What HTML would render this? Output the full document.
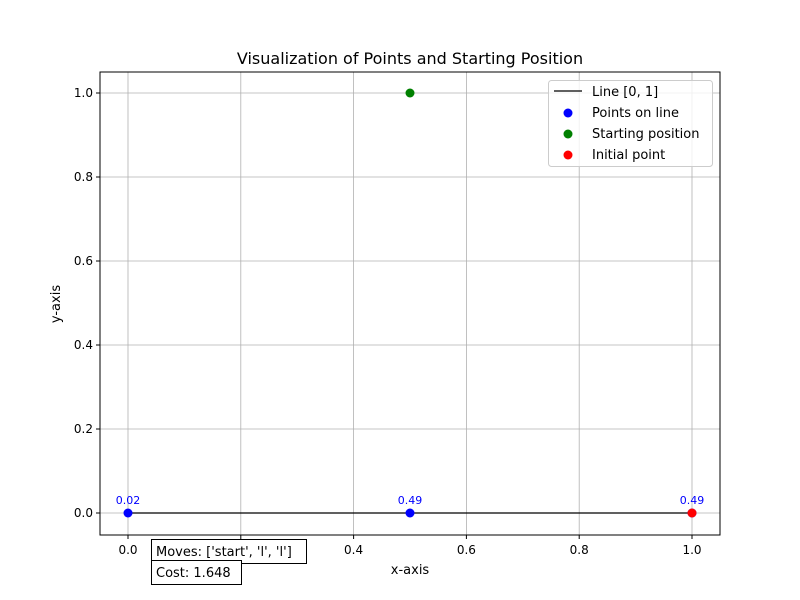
<!DOCTYPE html>
<html><head><meta charset="utf-8"><style>
html,body{margin:0;padding:0;background:#fff;}
svg{display:block;font-family:"DejaVu Sans","Liberation Sans",sans-serif;}
</style></head><body>
<svg id="chart" width="800" height="600" viewBox="0 0 800 600"></svg>
<script>
const xTicks=[0.0,0.2,0.4,0.6,0.8,1.0];
const yTicks=[0.0,0.2,0.4,0.6,0.8,1.0];
const lineX=[0,1];
const lineY=[0,0];
const pointsX=[0,0.5,1];
const pointsY=[0,0,0];
const pointLabels=["0.02","0.49","0.49"];
const startX=[0.5];
const startY=[1];
const initX=[1];
const initY=[0];
const L=100,R=720,T=72,B=535;
const x=v=>128+v*(692-128);
const y=v=>513-v*(513-93);
const svg=document.getElementById('chart');
const NS='http://www.w3.org/2000/svg';
function mk(tag,attrs,parent){const e=document.createElementNS(NS,tag);for(const k in attrs)e.setAttribute(k,attrs[k]);(parent||svg).appendChild(e);return e;}
function txt(s,attrs){const e=mk('text',attrs);e.textContent=s;return e;}
// grid
xTicks.forEach(v=>{const g=mk('line',{x1:x(v),x2:x(v),y1:T,y2:B,stroke:'#b0b0b0','stroke-width':0.8});

});
yTicks.forEach(v=>{const g=mk('line',{x1:L,x2:R,y1:y(v),y2:y(v),stroke:'#b0b0b0','stroke-width':0.8});

});
// line
const ln=mk('line',{x1:x(lineX[0]),x2:x(lineX[1]),y1:y(lineY[0]),y2:y(lineY[1]),stroke:'#000','stroke-width':1.2});


// points
pointsX.forEach((v,i)=>{const c=mk('circle',{cx:x(v),cy:y(pointsY[i]),r:4.5,fill:'#0000ff'});


const t=txt(pointLabels[i],{x:x(v),y:y(pointsY[i])-9,'text-anchor':'middle','font-size':11,fill:'#0000ff'});

});
startX.forEach((v,i)=>{const c=mk('circle',{cx:x(v),cy:y(startY[i]),r:4.5,fill:'#008000'});

});
initX.forEach((v,i)=>{const c=mk('circle',{cx:x(v),cy:y(initY[i]),r:4.5,fill:'#ff0000'});

});
// axes frame
const fr=mk('rect',{x:L,y:T,width:R-L,height:B-T,fill:'none',stroke:'#000','stroke-width':1});


// ticks
xTicks.forEach(v=>{mk('line',{x1:x(v),x2:x(v),y1:B,y2:B+4,stroke:'#000'});
const t=txt(v.toFixed(1),{x:x(v),y:B+19,'text-anchor':'middle','font-size':12});

});
yTicks.forEach(v=>{mk('line',{x1:L-4,x2:L,y1:y(v),y2:y(v),stroke:'#000'});
const t=txt(v.toFixed(1),{x:L-7,y:y(v)+4,'text-anchor':'end','font-size':12});

});
</script>
<svg width="800" height="600" style="position:absolute;left:0;top:0">
<text x="410" y="64" text-anchor="middle" font-size="16" font-family="DejaVu Sans, Liberation Sans, sans-serif">Visualization of Points and Starting Position</text>
<text x="410" y="574" text-anchor="middle" font-size="13" font-family="DejaVu Sans, Liberation Sans, sans-serif">x-axis</text>
<text transform="translate(60,304) rotate(-90)" text-anchor="middle" font-size="13" font-family="DejaVu Sans, Liberation Sans, sans-serif">y-axis</text>
<g font-family="DejaVu Sans, Liberation Sans, sans-serif" font-size="13">
<rect x="548.5" y="80.5" width="164" height="86" rx="3" fill="#fff" fill-opacity="0.8" stroke="#ccc"/>
<line x1="554" x2="582" y1="91" y2="91" stroke="#000" stroke-width="1.2"/>
<text x="592" y="96">Line [0, 1]</text>
<circle cx="568" cy="113" r="4.5" fill="#0000ff"/><text x="592" y="117">Points on line</text>
<circle cx="568" cy="134" r="4.5" fill="#008000"/><text x="592" y="138">Starting position</text>
<circle cx="568" cy="155" r="4.5" fill="#ff0000"/><text x="592" y="159">Initial point</text>
</g>
<g font-family="DejaVu Sans, Liberation Sans, sans-serif" font-size="13">
<rect x="151.5" y="539.5" width="155" height="24" fill="#fff" stroke="#000"/>
<text x="156" y="556">Moves: ['start', 'l', 'l']</text>
<rect x="151.5" y="560.5" width="90" height="24" fill="#fff" stroke="#000"/>
<text x="156" y="577">Cost: 1.648</text>
</g>
</svg>
</body></html>
